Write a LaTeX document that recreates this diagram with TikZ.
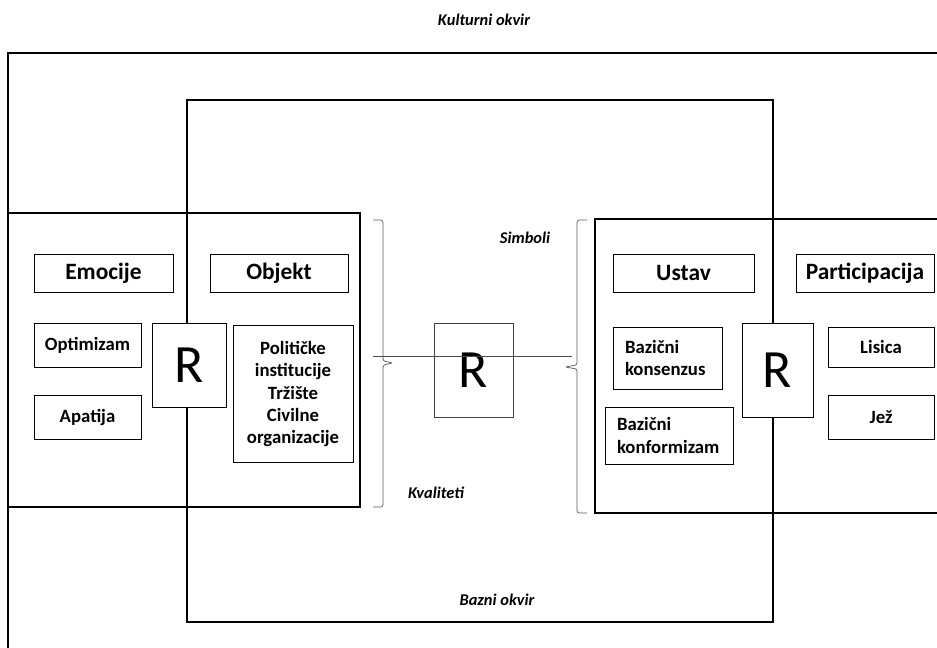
\documentclass[tikz,border=0pt]{standalone}
\usepackage{fontspec}
\setmainfont{Carlito}
\usetikzlibrary{positioning}

\begin{document}
\begin{tikzpicture}[x=0.03cm, y=-0.03cm,
  frame/.style={line width=1.3pt},
  headbox/.style={draw, fill=white, line width=0.8pt, inner sep=0pt, align=center, minimum height=1.14cm, font=\bfseries\fontsize{20}{24}\selectfont},
  itembox/.style={draw, fill=white, line width=0.8pt, inner sep=0pt, align=center, font=\bfseries\fontsize{16}{19}\selectfont},
  leftbox/.style={itembox, align=left, inner xsep=0.36cm},
  rbox/.style={draw, line width=0.8pt, inner sep=0pt, font=\fontsize{46}{50}\selectfont},
  caption/.style={font=\bfseries\itshape\fontsize{14}{16}\selectfont},
  bracket/.style={draw=black!65, line width=0.6pt, rounded corners=2pt}]

  \useasboundingbox (0,0) rectangle (937,647);
  \clip (0,0) rectangle (937,647);

  % frames
  \draw[frame] (8,53) rectangle (950,660);
  \draw[frame] (187,100) rectangle (773,622);
  \draw[frame] (8,213) rectangle (360,507);
  \draw[frame] (595,219) rectangle (950,513);

  \node[caption] (kultura) at (484,20) {Kulturni okvir};
  \node[caption] (baza) at (497,600) {Bazni okvir};
  \node[caption] (simboli) at (525,238) {Simboli};
  \node[caption] (kvaliteti) at (436,493) {Kvaliteti};

  % left block
  \node[headbox, minimum width=4.17cm] (emocije) at (103.5,273) {Emocije};
  \node[headbox, minimum width=4.14cm] (objekt) at (279,273) {Objekt};
  \node[itembox, minimum width=3.21cm, minimum height=1.32cm] (optimizam) at (87.5,345) {Optimizam};
  \node[itembox, minimum width=3.21cm, minimum height=1.32cm] (apatija) at (87.5,417) {Apatija};
  \node[rbox, fill=white, minimum width=2.22cm, minimum height=2.52cm] (rleft) at (189,365) {R};
  \node[itembox, minimum width=3.6cm, minimum height=4.11cm] (institucije) at (293,394) {Političke\\institucije\\Tržište\\Civilne\\organizacije};

  % middle
  \draw[bracket] (373,220) -- (383,220) -- (383,361) -- (393,363) -- (383,365) -- (383,507) -- (373,507);
  \draw[bracket] (587,220) -- (577,220) -- (577,365) -- (565,367) -- (577,369) -- (577,513) -- (587,513);
  \node[rbox, draw=black!75, minimum width=2.37cm, minimum height=2.82cm] (rmid) at (473.5,370) {R};
  \coordinate (lineL) at (373,356);
  \coordinate (lineR) at (572,356);
  \draw[black!70, line width=0.6pt] (lineL) -- (lineR);

  % right block
  \node[headbox, minimum width=4.23cm] (ustav) at (683.5,273) {Ustav};
  \node[headbox, minimum width=4.14cm] (participacija) at (865,273) {Participacija};
  \node[leftbox, text width=2.55cm, minimum height=1.86cm] (konsenzus) at (667.5,358) {Bazični\\konsenzus};
  \node[leftbox, text width=3.12cm, minimum height=1.71cm] (konformizam) at (669,435.5) {Bazični\\konformizam};
  \node[rbox, fill=white, minimum width=2.13cm, minimum height=2.82cm] (rright) at (777.5,370) {R};
  \node[itembox, minimum width=3.18cm, minimum height=1.2cm] (lisica) at (881,347) {Lisica};
  \node[itembox, minimum width=3.18cm, minimum height=1.32cm] (jez) at (881,417) {Jež};
\end{tikzpicture}
\end{document}
